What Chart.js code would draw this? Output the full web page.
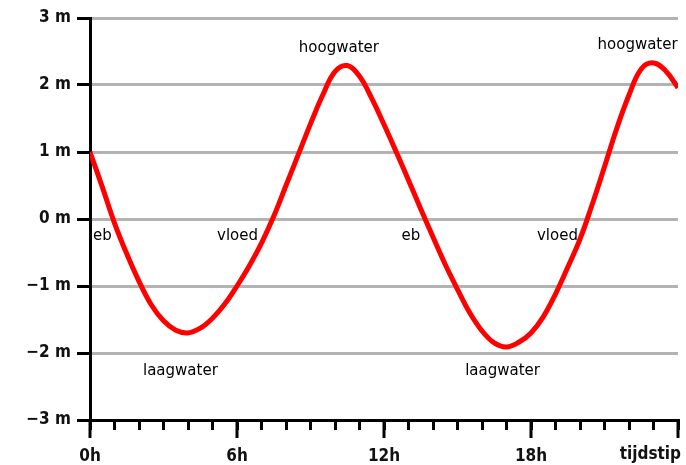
<!DOCTYPE html>
<html>
<head>
<meta charset="utf-8">
<script src="https://cdn.jsdelivr.net/npm/chart.js@4/dist/chart.umd.min.js"></script>
<style>
  html, body { margin: 0; padding: 0; background: #fff; }
  #wrap { width: 686px; height: 465px; }
</style>
</head>
<body>
<div id="wrap"><canvas id="tide"></canvas></div>
<script>
// hours (every half hour) and water level (m)
const hours = [0, 0.5, 1, 1.5, 2, 2.5, 3, 3.5, 4, 4.5, 5, 5.5, 6, 6.5, 7, 7.5, 8, 8.5,
  9, 9.5, 10, 10.5, 11, 11.5, 12, 12.5, 13, 13.5, 14, 14.5, 15, 15.5, 16, 16.5,
  17, 17.5, 18, 18.5, 19, 19.5, 20, 20.5, 21, 21.5, 22, 22.5, 23, 23.5, 24];
const level = [1.0, 0.48, -0.06, -0.52, -0.93, -1.28, -1.52, -1.66, -1.70, -1.63, -1.48, -1.27,
  -1.0, -0.70, -0.36, 0.04, 0.5, 0.96, 1.42, 1.85, 2.2, 2.29, 2.13, 1.80,
  1.41, 1.0, 0.58, 0.15, -0.27, -0.68, -1.05, -1.4, -1.67, -1.85, -1.91, -1.84,
  -1.70, -1.46, -1.12, -0.72, -0.3, 0.22, 0.78, 1.35, 1.85, 2.24, 2.33, 2.21, 1.96];

const xLabels = { 0: '0h', 6: '6h', 12: '12h', 18: '18h' };
const endLabel = 'tijdstip';
const majorHours = [0, 6, 12, 18, 24];

// labels inside the plot, placed in data units (hour, metres)
const noteText = ['eb', 'vloed', 'eb', 'vloed', 'hoogwater', 'hoogwater', 'laagwater', 'laagwater'];
const noteHour = [0.51, 6.02, 13.1, 19.08, 10.16, 22.35, 3.69, 16.84];
const noteLevel = [-0.25, -0.25, -0.25, -0.25, 2.55, 2.6, -2.27, -2.27];

const axisFont = { family: 'DejaVu Sans Condensed', size: 17, weight: 'bold' };

const extras = {
  id: 'extras',
  afterDraw(chart) {
    const { ctx, scales: { x, y } } = chart;
    ctx.save();
    // longer ticks every 6 hours
    ctx.strokeStyle = '#000';
    ctx.lineWidth = 3;
    majorHours.forEach(h => {
      const px = x.getPixelForValue(h);
      ctx.beginPath();
      ctx.moveTo(px, x.top);
      ctx.lineTo(px, x.top + 18);
      ctx.stroke();
    });
    ctx.fillStyle = '#111';
    ctx.font = 'bold 17px "DejaVu Sans Condensed"';
    ctx.textAlign = 'right';
    ctx.textBaseline = 'middle';
    ctx.fillText(endLabel, x.getPixelForValue(24) + 3, x.top + 35);

    ctx.font = '15px "DejaVu Sans"';
    ctx.textAlign = 'center';
    ctx.fillStyle = '#000';
    noteText.forEach((t, i) => {
      ctx.fillText(t, x.getPixelForValue(noteHour[i]), y.getPixelForValue(noteLevel[i]));
    });
    ctx.restore();
  }
};

new Chart(document.getElementById('tide'), {
  type: 'line',
  data: {
    datasets: [{
      data: hours.map((h, i) => ({ x: h, y: level[i] })),
      borderColor: '#ff0000',
      borderWidth: 5,
      pointRadius: 0,
      tension: 0.4,
      fill: false
    }]
  },
  options: {
    responsive: true,
    maintainAspectRatio: false,
    animation: false,
    layout: { padding: { top: 18, right: 8 } },
    plugins: { legend: { display: false }, tooltip: { enabled: false } },
    scales: {
      x: {
        type: 'linear',
        min: 0,
        max: 24,
        border: { color: '#000', width: 3 },
        grid: { drawOnChartArea: false, color: '#000', tickColor: '#000', tickLength: 10, lineWidth: 3 },
        ticks: {
          stepSize: 1,
          autoSkip: false,
          maxRotation: 0,
          padding: 16,
          color: '#111',
          font: axisFont,
          callback: v => xLabels[v] || ''
        },
        afterFit: s => { s.height = 45; s.paddingLeft = 0; s.paddingRight = 0; }
      },
      y: {
        min: -3,
        max: 3,
        border: { color: '#000', width: 3 },
        grid: { color: '#b3b3b3', lineWidth: 3, tickColor: '#000', tickLength: 13, tickWidth: 3 },
        ticks: {
          stepSize: 1,
          padding: 6,
          color: '#111',
          font: axisFont,
          callback: v => (v < 0 ? '\u2212' + Math.abs(v) : v) + ' m'
        },
        afterFit: s => { s.width = 90; }
      }
    }
  },
  plugins: [extras]
});
</script>
</body>
</html>
